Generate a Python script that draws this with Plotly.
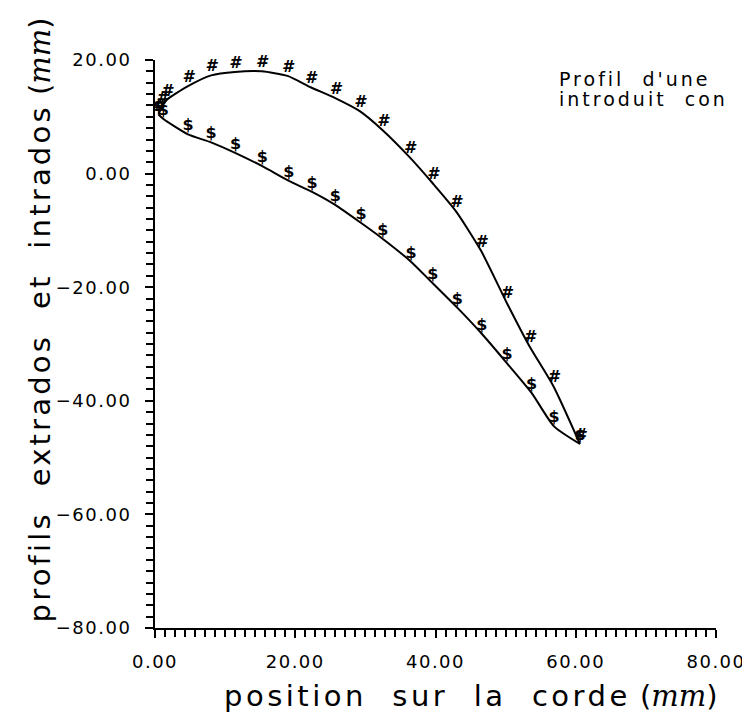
import plotly.graph_objects as go

# Extrados (upper surface) points, mm
upper_x = [0.5, 1.0, 1.7, 4.7, 8.0, 11.4, 15.2, 18.9, 22.2, 25.7, 29.2, 32.5, 36.3, 39.6, 42.9, 46.5, 50.1, 53.4, 56.8, 60.6]
upper_y = [10.4, 11.8, 13.0, 15.4, 17.3, 17.9, 18.0, 17.2, 15.2, 13.3, 11.0, 7.6, 2.9, -1.7, -6.6, -13.6, -22.6, -30.4, -37.4, -47.6]

# Intrados (lower surface) points, mm
lower_x = [0.5, 1.2, 4.7, 8.0, 11.5, 15.3, 19.1, 22.4, 25.7, 29.4, 32.5, 36.5, 39.6, 43.1, 46.6, 50.2, 53.7, 56.9, 60.6]
lower_y = [10.4, 9.6, 6.9, 5.5, 3.6, 1.3, -1.3, -3.2, -5.5, -8.7, -11.5, -15.5, -19.3, -23.6, -28.2, -33.4, -38.6, -44.5, -47.6]

x_ticks = [0, 20, 40, 60, 80]
x_ticklabels = ["0.00", "20.00", "40.00", "60.00", "80.00"]
y_ticks = [20, 0, -20, -40, -60, -80]
y_ticklabels = ["20.00", "0.00", "\u221220.00", "\u221240.00", "\u221260.00", "\u221280.00"]

FONT = "DejaVu Sans"
LS = "letter-spacing:1.5px"

def spaced(s, ls=LS):
    return f"<span style='{ls}'>{s}</span>"

fig = go.Figure()
fig.add_trace(go.Scatter(
    x=upper_x, y=upper_y, mode="lines+text",
    text=["<b><i>#</i></b>"] * len(upper_x), textposition="top center",
    textfont=dict(family=FONT, size=16, color="black"),
    line=dict(color="black", width=2, shape="spline", smoothing=0.6),
    cliponaxis=False, showlegend=False, hoverinfo="skip"))
fig.add_trace(go.Scatter(
    x=lower_x, y=lower_y, mode="lines+text",
    text=["<b>$</b>"] * len(lower_x), textposition="top center",
    textfont=dict(family=FONT, size=16, color="black"),
    line=dict(color="black", width=2, shape="spline", smoothing=0.6),
    cliponaxis=False, showlegend=False, hoverinfo="skip"))

axis_common = dict(
    showgrid=False, zeroline=False, showline=True, linecolor="black", linewidth=2,
    ticks="outside", ticklen=8, tickwidth=2, tickcolor="black",
    tickfont=dict(family=FONT, size=18, color="black"),
)
fig.update_xaxes(range=[0, 80], tickvals=x_ticks, ticktext=[spaced(t) for t in x_ticklabels],
                 minor=dict(dtick=20 / 14, ticks="outside", ticklen=7, tickwidth=1.5, tickcolor="black"),
                 ticklabelstandoff=8, **axis_common)
fig.update_yaxes(range=[-80, 20], tickvals=y_ticks, ticktext=[spaced(t) for t in y_ticklabels],
                 minor=dict(dtick=2, ticks="outside", ticklen=7, tickwidth=1.5, tickcolor="black"),
                 ticklabelstandoff=10, **axis_common)

W, H = 750, 716
L, R, T, B = 147, 30, 52, 96
pw, ph = W - L - R, H - T - B

def px(x):
    return (x - L) / pw

def py(y):
    return (H - B - y) / ph

TLS = "letter-spacing:3.5px"
mm = "<span style=\"font-family:'DejaVu Serif'\"><i>mm</i></span>"
fig.add_annotation(xref="paper", yref="paper", x=px(470), y=py(688),
                   text=spaced("position  sur  la  corde", TLS) + " (" + mm + ")",
                   showarrow=False, font=dict(family=FONT, size=29, color="black"),
                   xanchor="center", yanchor="middle")
fig.add_annotation(xref="paper", yref="paper", x=px(30), y=py(312),
                   text=spaced("profils  extrados  et  intrados", "letter-spacing:3.2px") + " (" + mm + ")",
                   textangle=-90, showarrow=False, font=dict(family=FONT, size=29, color="black"),
                   xanchor="center", yanchor="middle")
note_lines = ["Profil  d'une", "introduit  con"]
for txt, yy in zip(note_lines, [71, 91]):
    fig.add_annotation(xref="paper", yref="paper", x=px(558), y=py(yy),
                       text=spaced(txt, "letter-spacing:3px"),
                       align="left", showarrow=False, font=dict(family=FONT, size=19, color="black"),
                       xanchor="left", yanchor="middle")

fig.update_layout(width=W, height=H, margin=dict(l=L, r=R, t=T, b=B),
                  paper_bgcolor="white", plot_bgcolor="white")

fig.write_html("out.html")
